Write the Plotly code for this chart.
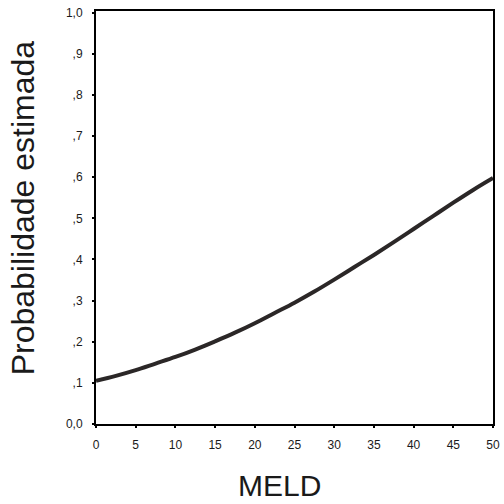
import plotly.graph_objects as go

meld = [0, 2.5, 5, 7.5, 10, 12.5, 15, 17.5, 20, 22.5, 25, 27.5, 30, 32.5, 35, 37.5, 40, 42.5, 45, 47.5, 50]
prob = [0.105, 0.117, 0.131, 0.147, 0.163, 0.181, 0.201, 0.222, 0.245, 0.270, 0.295, 0.322, 0.351,
        0.381, 0.411, 0.442, 0.474, 0.506, 0.538, 0.569, 0.598]

x_ticks = [0, 5, 10, 15, 20, 25, 30, 35, 40, 45, 50]
y_ticks = [0, 0.1, 0.2, 0.3, 0.4, 0.5, 0.6, 0.7, 0.8, 0.9, 1.0]
y_tick_labels = ["0,0", ",1", ",2", ",3", ",4", ",5", ",6", ",7", ",8", ",9", "1,0"]

fig = go.Figure()
fig.add_trace(go.Scatter(x=meld, y=prob, mode="lines", line=dict(color="#2b2727", width=4, shape="spline"),
                         showlegend=False, hoverinfo="skip"))

fig.update_layout(
    width=504, height=504,
    margin=dict(l=96, r=4, t=11, b=80),
    paper_bgcolor="white", plot_bgcolor="white",
    font=dict(family="Liberation Sans, Arial, sans-serif", color="#1a1a1a"),
)
fig.update_xaxes(range=[0, 50], tickvals=x_ticks, ticktext=[str(v) for v in x_ticks],
                 showgrid=False, zeroline=False, showline=True, linecolor="black", linewidth=2, mirror=True,
                 ticks="outside", ticklen=2, tickwidth=2, tickcolor="black",
                 ticklabelstandoff=7, ticklabeloverflow="allow",
                 tickfont=dict(size=12, color="#1a1a1a"))
fig.update_yaxes(range=[0, 1.004], tickvals=y_ticks, ticktext=y_tick_labels,
                 showgrid=False, zeroline=False, showline=True, linecolor="black", linewidth=2, mirror=True,
                 ticks="outside", ticklen=2, tickwidth=2, tickcolor="black",
                 ticklabelstandoff=7, ticklabeloverflow="allow",
                 tickfont=dict(size=12, color="#1a1a1a"))

fig.add_annotation(text="MELD", xref="paper", yref="paper", x=0.463, y=-0.148, xanchor="center", yanchor="middle",
                   showarrow=False, font=dict(size=30, color="#1a1a1a"))
fig.add_annotation(text="Probabilidade estimada", xref="paper", yref="paper", x=-0.183, y=0.523,
                   xanchor="center", yanchor="middle", textangle=-90,
                   showarrow=False, font=dict(size=32, color="#1a1a1a"))

fig.write_html("out.html")
